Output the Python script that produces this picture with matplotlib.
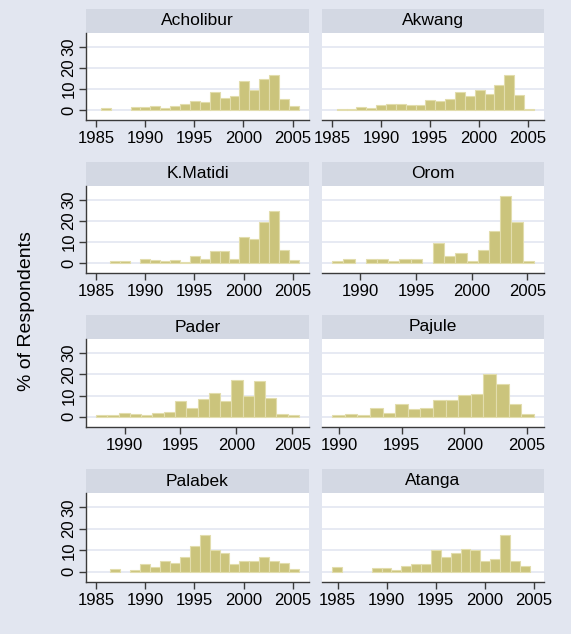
import matplotlib
matplotlib.use("Agg")
import matplotlib.pyplot as plt
from matplotlib.patches import Rectangle
import numpy as np

plt.rcParams['font.family'] = ['Liberation Sans', 'DejaVu Sans']

# histogram data (% of respondents per one-year bin)
binw = 1.008
names = ['Acholibur', 'Akwang', 'K.Matidi', 'Orom',
         'Pader', 'Pajule', 'Palabek', 'Atanga']
starts = [1985.48, 1985.48, 1986.46, 1987.45,
          1987.45, 1989.44, 1986.46, 1984.42]

acholibur = [1.1, 0, 0, 1.3, 1.3, 2.0, 0.7, 2.0, 3.0, 4.5, 4.0, 8.7,
             5.8, 6.5, 13.8, 9.7, 14.8, 16.5, 5.4, 2.0]
akwang = [0.3, 0.5, 1.3, 1.0, 2.5, 3.0, 2.7, 2.2, 2.5, 4.7, 4.3, 5.0,
          8.7, 6.5, 9.7, 7.7, 11.8, 16.6, 7.2, 0.3]
kmatidi = [0.8, 1.0, 0, 1.9, 1.3, 0.9, 1.3, 0.4, 3.2, 1.9, 5.6, 5.9,
           1.9, 12.2, 11.3, 19.4, 24.9, 6.0, 1.4]
orom = [0.9, 1.7, 0, 1.7, 1.7, 0.8, 1.7, 1.7, 0, 9.4, 3.3, 4.7,
        0.9, 6.1, 15.1, 32.0, 19.5, 0.9]
pader = [0.8, 0.8, 1.9, 1.5, 0.8, 1.9, 2.5, 7.6, 4.2, 8.3, 11.1, 7.4,
         17.3, 9.7, 16.7, 9.1, 1.3, 0.8]
pajule = [0.9, 1.4, 0.8, 4.3, 1.9, 6.0, 3.9, 4.3, 8.0, 8.0, 10.2, 10.8,
          20.1, 15.3, 6.0, 1.4]
palabek = [1.3, 0, 0.6, 3.6, 2.0, 4.9, 4.2, 6.9, 11.9, 17.0, 9.9, 8.5,
           3.6, 4.9, 4.9, 6.9, 4.9, 4.2, 1.4]
atanga = [2.0, 0, 0, 0, 1.9, 1.9, 0.9, 2.8, 3.8, 3.8, 9.9, 6.9, 8.9,
          10.8, 9.9, 5.2, 6.1, 17.0, 5.2, 2.8]
heights = [acholibur, akwang, kmatidi, orom, pader, pajule, palabek, atanga]

yticks = [0, 10, 20, 30]

bg = '#e2e6f0'
strip = '#d3d8e3'
barc = '#cbc47c'
bare = '#e2ddad'
axc = '#3a3a3a'

W, H = 571, 634
fig = plt.figure(figsize=(W / 100, H / 100), dpi=100, facecolor=bg)

cols = [(86, 309), (322, 544)]
rows = [(33, 120), (186, 273), (339, 427), (493, 582)]
strip_h = 24

for i, name in enumerate(names):
    r, c = divmod(i, 2)
    x0, x1 = cols[c]
    t0, b0 = rows[r]
    ax = fig.add_axes([x0 / W, 1 - b0 / H, (x1 - x0) / W, (b0 - t0) / H])
    ax.set_facecolor('white')

    h = np.array(heights[i])
    edges = starts[i] + binw * np.arange(len(h))
    keep = h > 0  # empty bins draw nothing
    ax.bar(edges[keep], h[keep], width=binw, align='edge', color=barc,
           edgecolor=bare, linewidth=0.8, zorder=3)

    end = starts[i] + binw * len(h)
    ticks = [t for t in range(1985, 2010, 5) if starts[i] - 1.5 <= t <= end + 0.5]
    lo = min(starts[i], ticks[0])
    hi = max(end, ticks[-1])
    rng = hi - lo
    ax.set_xlim(lo - 0.05 * rng, hi + 0.05 * rng)
    ax.set_xticks(ticks)
    ax.set_ylim(-4.8, 36.7)
    ax.set_yticks(yticks)
    for y in yticks:
        ax.axhline(y, color='#e3e6f1', linewidth=1.2, zorder=1)

    for s in ['top', 'right']:
        ax.spines[s].set_visible(False)
    ax.spines['bottom'].set_color(axc)
    ax.spines['bottom'].set_linewidth(1.0)
    ax.tick_params(axis='x', length=5, width=1, color=axc,
                   labelsize=12, pad=3)
    if c == 0:
        ax.spines['left'].set_color(axc)
        ax.spines['left'].set_linewidth(1.0)
        ax.tick_params(axis='y', length=5, width=1, color=axc,
                       labelsize=12, pad=2)
        for lab in ax.get_yticklabels():
            lab.set_rotation(90)
            lab.set_va('center')
    else:
        ax.spines['left'].set_visible(False)
        ax.tick_params(axis='y', left=False, labelleft=False)

    sh = strip_h / (b0 - t0)
    ax.add_patch(Rectangle((0, 1), 1, sh, transform=ax.transAxes,
                           facecolor=strip, edgecolor='none', clip_on=False))
    ax.text(0.5, 1 + sh / 2, name, transform=ax.transAxes, ha='center',
            va='center', fontsize=12.5)

fig.text(27 / W, 1 - 311 / H, '% of Respondents', rotation=90,
         ha='center', va='center', fontsize=14)

fig.savefig('out.png', dpi=100, facecolor=bg)
